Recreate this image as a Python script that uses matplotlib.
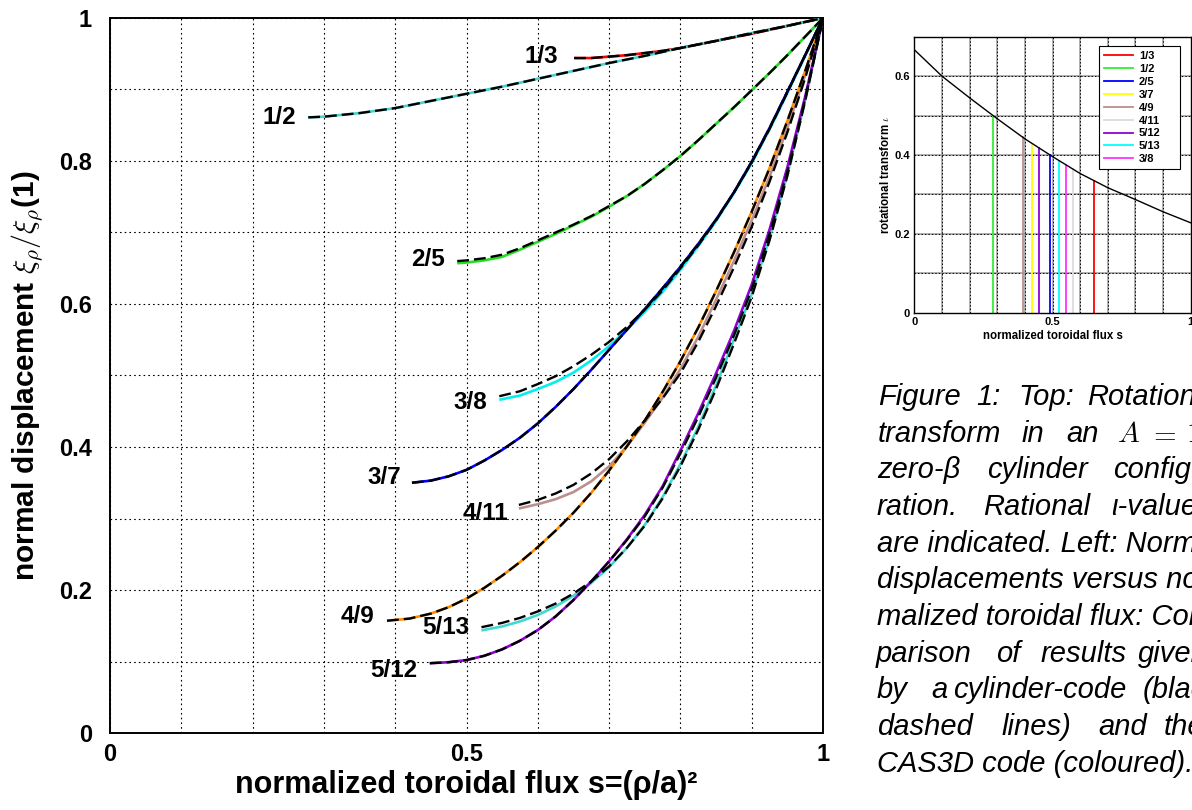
import matplotlib
matplotlib.use('Agg')
import matplotlib.pyplot as plt
from matplotlib.lines import Line2D

plt.rcParams['font.family'] = ['Liberation Sans', 'DejaVu Sans']
plt.rcParams['mathtext.fontset'] = 'cm'
plt.rcParams['lines.scale_dashes'] = False

# ---------------- data (main panel) ----------------
s_13 = [0.651, 0.675, 0.70, 0.725, 0.75, 0.775, 0.80, 0.85, 0.90, 0.95, 1.0]
cas_13 = [0.944, 0.944, 0.946, 0.948, 0.951, 0.954, 0.958, 0.968, 0.978, 0.989, 1.0]
cyl_13 = [0.944, 0.944, 0.946, 0.948, 0.951, 0.954, 0.958, 0.968, 0.978, 0.989, 1.0]

s_12 = [0.278, 0.30, 0.35, 0.40, 0.45, 0.50, 0.55, 0.60, 0.65, 0.70, 0.75, 0.80, 0.85, 0.90, 0.95, 1.0]
cas_12 = [0.861, 0.862, 0.867, 0.874, 0.884, 0.894, 0.904, 0.915, 0.926, 0.937, 0.947, 0.958, 0.968, 0.979, 0.989, 1.0]
cyl_12 = [0.861, 0.862, 0.867, 0.874, 0.884, 0.894, 0.904, 0.915, 0.926, 0.937, 0.947, 0.958, 0.968, 0.979, 0.989, 1.0]

s_25 = [0.487, 0.50, 0.525, 0.55, 0.575, 0.60, 0.625, 0.65, 0.675, 0.70, 0.725, 0.75,
        0.775, 0.80, 0.825, 0.85, 0.875, 0.90, 0.925, 0.95, 0.975, 1.0]
cas_25 = [0.657, 0.658, 0.661, 0.666, 0.676, 0.687, 0.698, 0.710, 0.722, 0.736, 0.751, 0.768,
          0.787, 0.807, 0.829, 0.852, 0.875, 0.899, 0.923, 0.948, 0.974, 1.0]
cyl_25 = [0.660, 0.661, 0.664, 0.669, 0.678, 0.689, 0.700, 0.711, 0.723, 0.737, 0.751, 0.768,
          0.787, 0.807, 0.829, 0.852, 0.875, 0.899, 0.923, 0.948, 0.974, 1.0]

s_38 = [0.546, 0.575, 0.60, 0.625, 0.65, 0.675, 0.70, 0.725, 0.75, 0.775, 0.80, 0.825,
        0.85, 0.875, 0.90, 0.925, 0.95, 0.975, 1.0]
cas_38 = [0.466, 0.472, 0.481, 0.491, 0.504, 0.521, 0.541, 0.564, 0.589, 0.617, 0.648, 0.681,
          0.716, 0.755, 0.797, 0.844, 0.895, 0.947, 1.0]
cyl_38 = [0.471, 0.478, 0.488, 0.499, 0.513, 0.529, 0.547, 0.568, 0.592, 0.619, 0.650, 0.682,
          0.717, 0.756, 0.798, 0.845, 0.896, 0.948, 1.0]

s_37 = [0.4235, 0.45, 0.475, 0.50, 0.525, 0.55, 0.575, 0.60, 0.625, 0.65, 0.675, 0.70, 0.725,
        0.75, 0.775, 0.80, 0.825, 0.85, 0.875, 0.90, 0.925, 0.95, 0.975, 1.0]
cas_37 = [0.350, 0.353, 0.359, 0.368, 0.381, 0.396, 0.413, 0.433, 0.456, 0.481, 0.508, 0.536, 0.564,
          0.593, 0.622, 0.652, 0.684, 0.718, 0.756, 0.799, 0.846, 0.897, 0.948, 1.0]
cyl_37 = [0.350, 0.353, 0.359, 0.368, 0.381, 0.396, 0.413, 0.433, 0.456, 0.481, 0.508, 0.536, 0.564,
          0.593, 0.622, 0.652, 0.684, 0.718, 0.756, 0.799, 0.846, 0.897, 0.948, 1.0]

s_411 = [0.5735, 0.60, 0.625, 0.65, 0.675, 0.70, 0.725, 0.75, 0.775, 0.80, 0.825, 0.85,
         0.875, 0.90, 0.925, 0.95, 0.975, 1.0]
cas_411 = [0.314, 0.320, 0.327, 0.337, 0.352, 0.373, 0.401, 0.434, 0.469, 0.509, 0.554, 0.606,
           0.660, 0.717, 0.778, 0.846, 0.920, 1.0]
cyl_411 = [0.319, 0.326, 0.335, 0.347, 0.363, 0.383, 0.408, 0.437, 0.468, 0.503, 0.547, 0.597,
           0.651, 0.708, 0.771, 0.840, 0.916, 1.0]

s_49 = [0.3885, 0.42, 0.45, 0.475, 0.50, 0.525, 0.55, 0.575, 0.60, 0.625, 0.65, 0.675, 0.70,
        0.725, 0.75, 0.775, 0.80, 0.825, 0.85, 0.875, 0.90, 0.925, 0.95, 0.975, 1.0]
cas_49 = [0.157, 0.160, 0.167, 0.176, 0.188, 0.203, 0.220, 0.239, 0.260, 0.283, 0.308, 0.336, 0.367,
          0.401, 0.437, 0.477, 0.520, 0.567, 0.618, 0.672, 0.729, 0.790, 0.856, 0.926, 1.0]
cyl_49 = [0.157, 0.160, 0.167, 0.176, 0.188, 0.203, 0.220, 0.239, 0.260, 0.283, 0.308, 0.336, 0.367,
          0.401, 0.437, 0.477, 0.520, 0.567, 0.618, 0.672, 0.729, 0.790, 0.856, 0.926, 1.0]

s_513 = [0.521, 0.55, 0.575, 0.60, 0.625, 0.65, 0.675, 0.70, 0.725, 0.75, 0.775, 0.80,
         0.825, 0.85, 0.875, 0.90, 0.925, 0.95, 0.975, 1.0]
cas_513 = [0.1435, 0.149, 0.156, 0.165, 0.177, 0.192, 0.210, 0.232, 0.259, 0.291, 0.330, 0.376,
           0.428, 0.486, 0.550, 0.614, 0.692, 0.781, 0.885, 1.0]
cyl_513 = [0.148, 0.154, 0.161, 0.170, 0.181, 0.195, 0.212, 0.233, 0.259, 0.290, 0.328, 0.373,
           0.424, 0.481, 0.544, 0.610, 0.689, 0.779, 0.884, 1.0]

s_512 = [0.4485, 0.475, 0.50, 0.525, 0.55, 0.575, 0.60, 0.625, 0.65, 0.675, 0.70, 0.725, 0.75,
         0.775, 0.80, 0.825, 0.85, 0.875, 0.90, 0.925, 0.95, 0.975, 1.0]
cas_512 = [0.0976, 0.099, 0.102, 0.108, 0.117, 0.129, 0.144, 0.163, 0.186, 0.212, 0.240, 0.271, 0.305,
           0.345, 0.395, 0.447, 0.503, 0.562, 0.627, 0.704, 0.791, 0.890, 1.0]
cyl_512 = [0.0976, 0.099, 0.102, 0.108, 0.117, 0.129, 0.144, 0.163, 0.186, 0.212, 0.240, 0.270, 0.303,
           0.343, 0.391, 0.442, 0.497, 0.556, 0.621, 0.698, 0.785, 0.887, 1.0]

curve_labels = ['1/3', '1/2', '2/5', '3/8', '3/7', '4/11', '4/9', '5/13', '5/12']
curve_colors = ['#ff0000', '#48d1cc', '#22dd22', '#00f0f0', '#0000ff', '#bc8f8f', '#ff8c00', '#40d8d0', '#9400d3']
label_s = [0.6055, 0.238, 0.446, 0.5055, 0.385, 0.527, 0.347, 0.4705, 0.3985]
label_v = [0.946, 0.861, 0.662, 0.462, 0.358, 0.307, 0.1625, 0.147, 0.088]

x_ticks = [0, 0.5, 1]
x_ticklabels = ['0', '0.5', '1']
y_ticks = [0, 0.2, 0.4, 0.6, 0.8, 1]
y_ticklabels = ['0', '0.2', '0.4', '0.6', '0.8', '1']

# ---------------- data (inset) ----------------
iota_s = [0.0, 0.1, 0.2, 0.3, 0.4, 0.5, 0.6, 0.7, 0.8, 0.9, 1.0]
iota_v = [0.667, 0.600, 0.545, 0.492, 0.441, 0.396, 0.353, 0.317, 0.287, 0.256, 0.228]
res_labels = ['1/3', '1/2', '2/5', '3/7', '4/9', '4/11', '5/12', '5/13', '3/8']
res_s = [0.651, 0.283, 0.491, 0.427, 0.392, 0.573, 0.452, 0.524, 0.548]
res_iota = [1/3, 1/2, 2/5, 3/7, 4/9, 4/11, 5/12, 5/13, 3/8]
res_colors = ['#ff0000', '#33ee33', '#0000ff', '#ffff00', '#bc8f8f', '#dcdcdc', '#9400d3', '#00ffff', '#ff33ff']

W, H = 1192, 810
fig = plt.figure(figsize=(W / 100, H / 100), dpi=100)

# ---------------- main panel ----------------
ax = fig.add_axes([110 / W, 1 - 733 / H, 713 / W, 715 / H])
series = [
    (s_13, cas_13, cyl_13), (s_12, cas_12, cyl_12), (s_25, cas_25, cyl_25),
    (s_38, cas_38, cyl_38), (s_37, cas_37, cyl_37), (s_411, cas_411, cyl_411),
    (s_49, cas_49, cyl_49), (s_513, cas_513, cyl_513), (s_512, cas_512, cyl_512),
]
for (s, cas, cyl), col in zip(series, curve_colors):
    ax.plot(s, cas, color=col, lw=1.9, solid_capstyle='butt', zorder=3)
for (s, cas, cyl) in series:
    ax.plot(s, cyl, color='black', lw=1.7, dashes=(8.5, 3.6), zorder=4)
for lab, xs, ys in zip(curve_labels, label_s, label_v):
    ax.text(xs, ys, lab, ha='center', va='center', fontsize=17.5,
            fontweight='bold', zorder=5)

ax.set_xlim(0, 1)
ax.set_ylim(0, 1)
ax.set_xticks(x_ticks)
ax.set_xticklabels(x_ticklabels, fontsize=17, fontweight='bold')
ax.set_yticks(y_ticks)
ax.set_yticklabels(y_ticklabels, fontsize=17, fontweight='bold')
ax.set_xticks([i / 10 for i in range(11)], minor=True)
ax.set_yticks([i / 10 for i in range(11)], minor=True)
ax.tick_params(which='both', length=0)
ax.tick_params(axis='x', pad=7)
ax.tick_params(axis='y', pad=13)
ax.grid(which='both', color='black', lw=0.8, ls=(0, (1.2, 2.2)))
ax.set_axisbelow(True)
for sp in ax.spines.values():
    sp.set_linewidth(1.4)
ax.set_xlabel('normalized toroidal flux s=(ρ/a)²', fontsize=22,
              fontweight='bold', labelpad=3)
ax.set_ylabel(r'normal displacement $\xi_\rho/\xi_\rho$(1)', fontsize=21.5,
              fontweight='bold', labelpad=10)

# ---------------- inset ----------------
ax2 = fig.add_axes([914.3 / W, 1 - 312.7 / H, 276.4 / W, 276 / H])
ax2.set_xlim(0, 1)
ax2.set_ylim(0, 0.7)
for g in [i / 10 for i in range(1, 10)]:
    ax2.axvline(g, color='#999999', lw=1.1, zorder=1)
    ax2.axvline(g, color='black', lw=0.7, ls=(0, (1, 1.5)), zorder=1.1)
for g in [i / 10 for i in range(1, 7)]:
    ax2.axhline(g, color='#999999', lw=1.1, zorder=1)
    ax2.axhline(g, color='black', lw=0.7, ls=(0, (1, 1.5)), zorder=1.1)
ax2.plot(iota_s, iota_v, color='black', lw=1.0, zorder=3)
handles = []
for xs, top, col, lab in zip(res_s, res_iota, res_colors, res_labels):
    ax2.plot([xs, xs], [0, top], color=col, lw=1.3, zorder=2)
    handles.append(Line2D([], [], color=col, lw=1.3, label=lab))
leg = ax2.legend(handles=handles, loc='upper left',
                 bbox_to_anchor=(0.668, 0.478, 0.293, 0.488), mode='expand',
                 borderaxespad=0, prop={'weight': 'bold', 'size': 8},
                 handlelength=2.6, handletextpad=0.55, labelspacing=0.26,
                 borderpad=0.45, fancybox=False, framealpha=1, edgecolor='black')
leg.get_frame().set_linewidth(0.8)
leg.set_zorder(6)
ax2.set_xticks([0, 0.5, 1])
ax2.set_xticklabels(['0', '0.5', '1'], fontsize=8, fontweight='bold')
ax2.set_yticks([0, 0.2, 0.4, 0.6])
ax2.set_yticklabels(['0', '0.2', '0.4', '0.6'], fontsize=8, fontweight='bold')
ax2.tick_params(length=0, pad=3)
for sp in ax2.spines.values():
    sp.set_linewidth(1.0)
ax2.set_xlabel('normalized toroidal flux s', fontsize=8.3, fontweight='bold', labelpad=2)
ax2.set_ylabel(r'rotational transform $\iota$', fontsize=8.3, fontweight='bold', labelpad=2)

# ---------------- caption ----------------
cap_size = 21
base0 = 405
step = 36.67
caption = [
    [(877.7, 'Figure'), (976.7, '1:'), (1018.3, 'Top:'), (1086.7, 'Rotational')],
    [(877.7, 'transform'), (1021.7, 'in'), (1066, 'an'), (1117.3, '$A$'), (1148.3, '$=$'), (1186, '$1$')],
    [(876.7, 'zero-β'), (987.3, 'cylinder'), (1112.7, 'configu-')],
    [(876.7, 'ration.'), (982.7, 'Rational'), (1110.7, 'ι-values')],
    [(876.7, 'are indicated. Left: Normal')],
    [(876.7, 'displacements versus nor-')],
    [(876.7, 'malized toroidal flux: Com-')],
    [(876.0, 'parison'), (995.7, 'of'), (1040.7, 'results'), (1138.3, 'given')],
    [(876.7, 'by'), (931.7, 'a'), (953.3, 'cylinder-code'), (1142.7, '(black')],
    [(876.7, 'dashed'), (1001.7, 'lines)'), (1098.3, 'and'), (1163.3, 'the')],
    [(876.7, 'CAS3D code (coloured).')],
]
for k, line in enumerate(caption):
    yb = base0 + step * k
    for xp, word in line:
        fig.text(xp / W, 1 - yb / H, word, fontsize=cap_size, style='italic',
                 ha='left', va='baseline')

fig.savefig('out.png', dpi=100)
